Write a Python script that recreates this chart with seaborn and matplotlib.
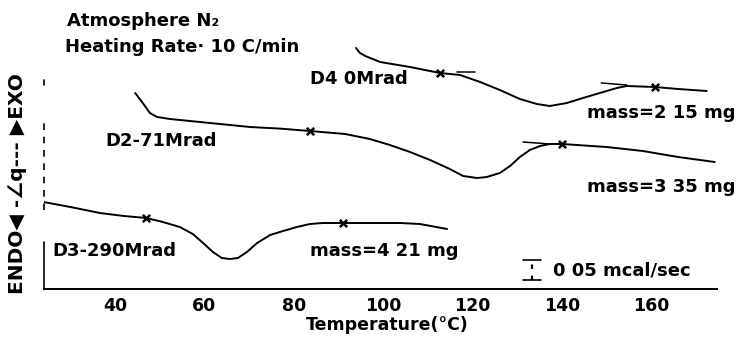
import matplotlib
matplotlib.use("Agg")
import matplotlib.pyplot as plt
import seaborn as sns
import pandas as pd

# ---- data (temperature in C, heat flow in mcal/sec, arbitrary offset) ----
d3_temp = [24.0, 30.0, 36.6, 42.0, 47.0, 50.7, 54.5, 57.4, 59.7, 61.9, 63.9, 65.7, 67.5, 69.5, 71.8,
           74.7, 77.6, 80.7, 83.6, 86.5, 91.0, 98.0, 103.8, 108.2, 114.3]
d3_flow = [0.2175, 0.205, 0.19, 0.1825, 0.1775, 0.1675, 0.155, 0.1375, 0.115, 0.0925, 0.0775, 0.075, 0.0775,
           0.0925, 0.115, 0.135, 0.145, 0.155, 0.1625, 0.165, 0.165, 0.165, 0.165, 0.1625, 0.15]

d2_temp = [44.5, 46.2, 47.8, 49.4, 52.3, 59.0, 70.2, 76.9, 83.6, 91.5, 97.0, 101.5, 106.0, 110.5, 114.9,
           117.9, 121.0, 123.2, 126.1, 128.4, 130.6, 132.8, 135.1, 137.3, 140.0, 150.0, 158.1, 166.0, 174.2]
d2_flow = [0.49, 0.465, 0.44, 0.43, 0.425, 0.4175, 0.405, 0.401, 0.395, 0.3875, 0.375, 0.36, 0.3425, 0.3225,
           0.30, 0.2825, 0.2775, 0.28, 0.29, 0.3075, 0.33, 0.3475, 0.3575, 0.3625, 0.3625, 0.355, 0.345,
           0.33, 0.3175]

d4_temp = [93.9, 94.8, 96.0, 99.3, 106.0, 112.7, 117.2, 121.7, 126.1, 130.6, 134.4, 137.3, 141.1, 144.7,
           148.5, 152.3, 154.5, 160.8, 166.0, 172.4]
d4_flow = [0.6025, 0.59, 0.5825, 0.5675, 0.555, 0.54, 0.535, 0.5175, 0.4975, 0.475, 0.4625, 0.4575, 0.465,
           0.4775, 0.49, 0.5025, 0.5075, 0.505, 0.50, 0.495]

# onset / endset markers
mark_temp = [47.0, 91.0, 83.6, 140.0, 112.7, 160.8]
mark_flow = [0.1775, 0.165, 0.395, 0.3625, 0.54, 0.505]

# tangent construction lines (start T, end T, start flow, end flow)
tangents = [
    (116.5, 120.5, 0.5425, 0.5425),
    (148.8, 154.5, 0.515, 0.51),
    (131.3, 137.3, 0.3675, 0.3625),
]

curve_labels = ["D4 0Mrad", "D2-71Mrad", "D3-290Mrad"]
mass_labels = ["mass=2 15 mg", "mass=3 35 mg", "mass=4 21 mg"]
scale_value = 0.05  # mcal/sec
major_ticks = [40, 60, 80, 100, 120, 140, 160]
minor_ticks = [30, 50, 70, 90, 110, 130, 150, 170]

# ---- figure ----
sns.set_style("white")
plt.rcParams["font.family"] = ["DejaVu Sans"]
plt.rcParams["font.weight"] = "bold"
plt.rcParams["text.color"] = "black"
plt.rcParams["axes.labelcolor"] = "black"
plt.rcParams["xtick.color"] = "black"

fig = plt.figure(figsize=(7.36, 3.41), dpi=100)
ax = fig.add_axes([44 / 736, 52 / 341, 673 / 736, 269 / 341])

lw = 1.4
for t, f in [(d3_temp, d3_flow), (d2_temp, d2_flow), (d4_temp, d4_flow)]:
    df = pd.DataFrame({"T": t, "q": f})
    sns.lineplot(data=df, x="T", y="q", ax=ax, color="black", linewidth=lw,
                 sort=False, estimator=None)

for t0, t1, f0, f1 in tangents:
    sns.lineplot(x=[t0, t1], y=[f0, f1], ax=ax, color="black", linewidth=1.1,
                 sort=False, estimator=None)

sns.scatterplot(x=mark_temp, y=mark_flow, ax=ax, marker="x", color="black",
                s=28, linewidth=1.8, zorder=5)

xmin, xmax = 24.1, 174.7
ax.set_xlim(xmin, xmax)
ax.set_ylim(0, 0.6725)

# axis styling
for side in ["top", "right", "left"]:
    ax.spines[side].set_visible(False)
ax.spines["bottom"].set_linewidth(1.4)
ax.spines["bottom"].set_color("black")
ax.set_yticks([])
ax.set_xticks(major_ticks)
ax.set_xticks(minor_ticks, minor=True)
ax.tick_params(axis="x", which="major", direction="out", length=5, width=1.4,
               labelsize=12.5, pad=1, color="black")
ax.tick_params(axis="x", which="minor", direction="out", length=4, width=1.4, color="black")
for lab in ax.get_xticklabels():
    lab.set_fontweight("bold")

# partial left axis: solid lower piece and dashed upper piece
ax.plot([xmin, xmin], [0, 0.1175], color="black", linewidth=1.2, clip_on=False)
ax.plot([xmin, xmin], [0.1975, 0.4225], color="black", linewidth=1.2,
        linestyle=(0, (4, 4)), clip_on=False)
ax.plot([xmin, xmin], [0.51, 0.5225], color="black", linewidth=1.2, clip_on=False)

ax.set_xlabel("Temperature(°C)", fontsize=12.5, fontweight="bold")
ax.xaxis.set_label_coords(0.51, -0.10)
ax.set_ylabel("")

# curve labels
tkw = dict(fontsize=13, fontweight="bold", va="center", ha="left", color="black")
ax.text(83.6, 0.525, curve_labels[0], **tkw)
ax.text(37.8, 0.369, curve_labels[1], **tkw)
ax.text(25.9, 0.094, curve_labels[2], **tkw)
ax.text(145.6, 0.439, mass_labels[0], **tkw)
ax.text(145.6, 0.256, mass_labels[1], **tkw)
ax.text(83.6, 0.096, mass_labels[2], **tkw)

# scale bar
sb_x0, sb_x1, sb_xc = 131.3, 135.3, 133.3
sb_top = 0.0725
ax.plot([sb_x0, sb_x1], [sb_top, sb_top], color="black", linewidth=1.2)
ax.plot([sb_x0, sb_x1], [sb_top - scale_value, sb_top - scale_value], color="black", linewidth=1.2)
ax.plot([sb_xc, sb_xc], [sb_top - scale_value, sb_top], color="black", linewidth=1.6,
        linestyle=(0, (2, 3)))
ax.text(138.0, 0.046, "0 05 mcal/sec", **tkw)

# header texts and rotated y label
fig.text(67 / 736, 1 - 21.5 / 341, "Atmosphere N₂", fontsize=13, fontweight="bold",
         ha="left", va="center")
fig.text(65 / 736, 1 - 47 / 341, "Heating Rate· 10 C/min", fontsize=13, fontweight="bold",
         ha="left", va="center")
fig.text(18 / 736, 1 - 184 / 341, "ENDO◀ -∠q--- ▶EXO", fontsize=14.5, fontweight="bold",
         rotation=90, ha="center", va="center")

fig.savefig("out.png", dpi=100)
